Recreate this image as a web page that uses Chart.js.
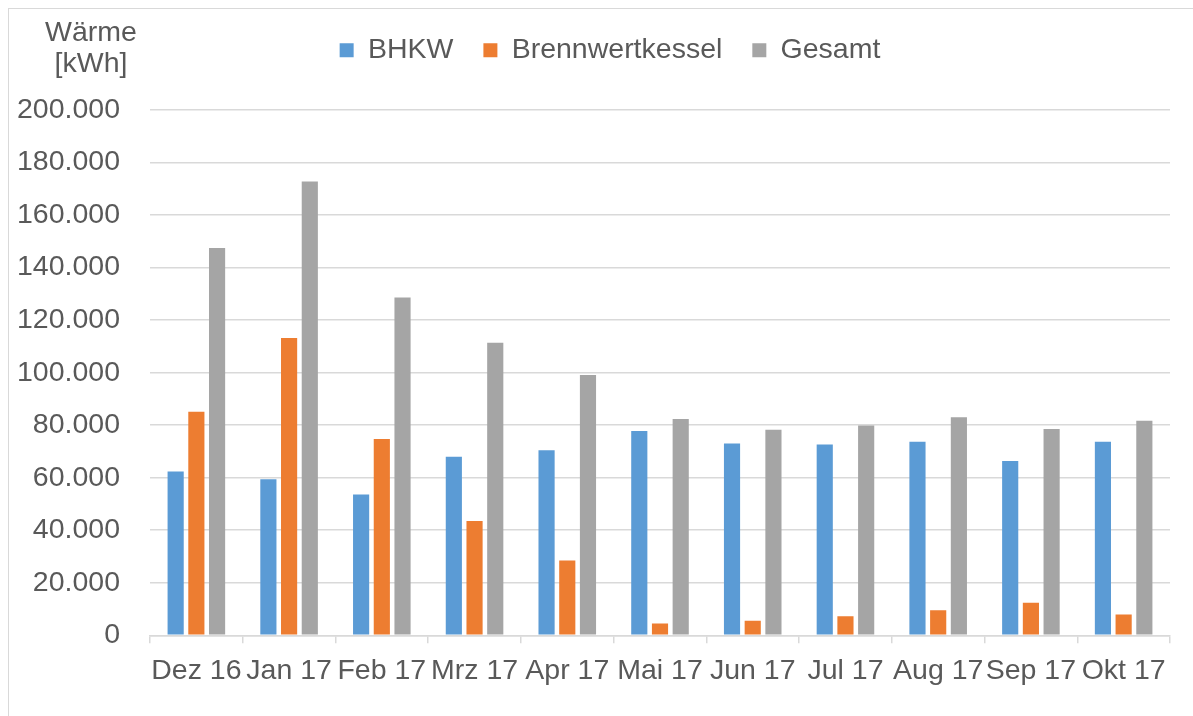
<!DOCTYPE html>
<html>
<head>
<meta charset="utf-8">
<script src="https://cdn.jsdelivr.net/npm/chart.js@4/dist/chart.umd.min.js"></script>
<style>
  html, body { margin: 0; padding: 0; background: #fff; }
  #wrap { position: relative; width: 1193px; height: 716px; overflow: hidden; }
  #frame { position: absolute; left: 8px; top: 8px; width: 1300px; height: 800px;
           border-left: 1.5px solid #d9d9d9; border-top: 1.5px solid #d9d9d9; }
  #ytitle { position: absolute; left: 36px; top: 16px; width: 110px; text-align: center;
            font-family: "Liberation Sans", Arial, sans-serif; font-size: 28.5px; line-height: 31px; color: #595959; }
  canvas { position: absolute; left: 0; top: 0; }
</style>
</head>
<body>
<div id="wrap">
  <div id="frame"></div>
  <canvas id="c" width="1193" height="716"></canvas>
  <div id="ytitle">Wärme<br>[kWh]</div>
</div>
<script>
const categories = ['Dez 16','Jan 17','Feb 17','Mrz 17','Apr 17','Mai 17','Jun 17','Jul 17','Aug 17','Sep 17','Okt 17'];
const seriesNames = ['BHKW','Brennwertkessel','Gesamt'];
const bhkw = [62400, 59400, 53600, 68000, 70500, 77800, 73000, 72600, 73700, 66400, 73700];
const brennwertkessel = [85100, 113200, 74700, 43500, 28500, 4500, 5500, 7300, 9500, 12400, 7900];
const gesamt = [147500, 172800, 128600, 111400, 99100, 82400, 78300, 79900, 83000, 78500, 81700];
const yTicks = [0, 20000, 40000, 60000, 80000, 100000, 120000, 140000, 160000, 180000, 200000];
const colors = ['#5B9BD5', '#ED7D31', '#A5A5A5'];

const FONT = '"Liberation Sans", Arial, sans-serif';
const TXT = '#595959';

function fmt(v) {
  return String(Math.round(v)).replace(/\B(?=(\d{3})+(?!\d))/g, '.');
}

const legendPlacePlugin = {
  id: 'legendPlace',
  beforeUpdate(chart) {
    const lg = chart.legend;
    if (lg && !lg._patched) {
      const orig = lg.fit.bind(lg);
      lg.fit = function() { orig(); this.height = 104; };
      lg._patched = true;
    }
  },
  afterLayout(chart) {
    if (chart.legend) chart.legend.left = 50;
  }
};

const seriesData = [bhkw, brennwertkessel, gesamt];

new Chart(document.getElementById('c'), {
  type: 'bar',
  data: {
    labels: categories,
    datasets: seriesNames.map((n, i) => ({
      label: n,
      data: seriesData[i],
      backgroundColor: colors[i],
      borderWidth: 0,
      barPercentage: 0.78,
      categoryPercentage: 0.67
    }))
  },
  plugins: [legendPlacePlugin],
  options: {
    responsive: false,
    animation: false,
    devicePixelRatio: 1,
    layout: { padding: { left: 0, right: 23, top: 6, bottom: 17.5 } },
    plugins: {
      legend: {
        position: 'top',
        labels: {
          boxWidth: 14, boxHeight: 14, padding: 30,
          color: TXT, font: { family: FONT, size: 28.5 }
        }
      },
      tooltip: { enabled: false }
    },
    scales: {
      x: {
        grid: { display: true, drawOnChartArea: false, drawTicks: true, tickLength: 8, color: '#d9d9d9', lineWidth: 1.5 },
        border: { display: true, color: '#d9d9d9', width: 1.5 },
        ticks: { color: TXT, font: { family: FONT, size: 28.5 }, padding: 10.5, autoSkip: false, maxRotation: 0, minRotation: 0 }
      },
      y: {
        min: 0, max: 200000,
        afterFit(scale) { scale.width = 150; },
        afterBuildTicks(scale) { scale.ticks = yTicks.map(v => ({ value: v })); },
        grid: { color: '#d9d9d9', lineWidth: 1.5, drawTicks: false },
        border: { display: false },
        ticks: { color: TXT, font: { family: FONT, size: 28.5 }, padding: 30, callback: (v) => fmt(v) }
      }
    }
  }
});
</script>
</body>
</html>
